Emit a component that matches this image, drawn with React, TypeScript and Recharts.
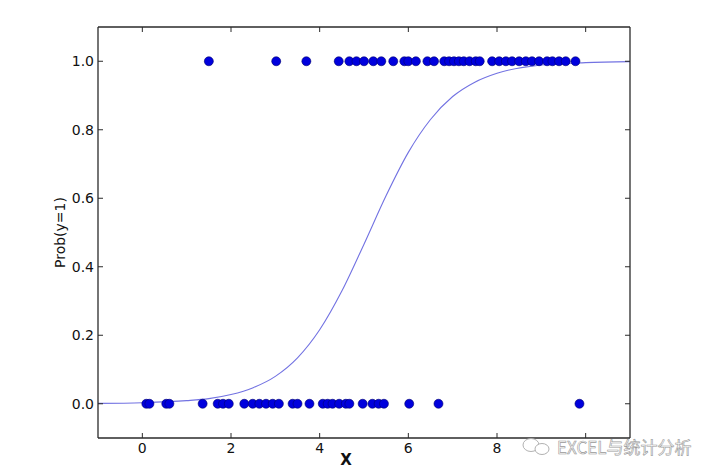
import React from "react";
import { ComposedChart, Scatter, Line, XAxis, YAxis, Label } from "recharts";

const onesX = [1.5, 3.02, 3.7, 4.43, 4.67, 4.83, 5.0, 5.21, 5.39, 5.66, 5.91, 6.0, 6.17, 6.43, 6.58, 6.81, 6.92, 7.03, 7.14, 7.25, 7.38, 7.52, 7.61, 7.89, 8.05, 8.2, 8.34, 8.5, 8.65, 8.79, 8.95, 9.13, 9.25, 9.4, 9.55, 9.77];
const zerosX = [0.09, 0.16, 0.54, 0.61, 1.36, 1.7, 1.82, 1.95, 2.3, 2.49, 2.64, 2.79, 2.94, 3.08, 3.39, 3.5, 3.77, 4.07, 4.18, 4.29, 4.44, 4.59, 4.67, 4.97, 5.19, 5.33, 5.45, 6.02, 6.68, 9.86];

// fitted curve
const curveX = [-1, 0, 1, 1.5, 2, 2.5, 3, 3.5, 4, 4.5, 5, 5.5, 6, 6.5, 7, 7.5, 8, 9, 10, 11];
const curveY = [0.001, 0.003, 0.009, 0.015, 0.027, 0.047, 0.08, 0.134, 0.216, 0.329, 0.466, 0.608, 0.734, 0.83, 0.897, 0.939, 0.965, 0.989, 0.996, 0.999];

const xTicks = [0, 2, 4, 6, 8, 10];
// the "10" label is hidden under the watermark in the source
const xTickLabels = ["0", "2", "4", "6", "8", ""];
const yTicks = [0, 0.2, 0.4, 0.6, 0.8, 1.0];

const points = [...onesX.map((x) => ({ x, y: 1 })), ...zerosX.map((x) => ({ x, y: 0 }))];
const curve = curveX.map((x, i) => ({ x, y: curveY[i] }));

const FONT = "'DejaVu Sans', sans-serif";
const FRAME = "#2a2a2a";

// axes are 1px thick boxes; the frame line sits on the plot edge
const BottomTick = ({ x, y, index }: any) => (
  <g>
    <line x1={x} x2={x} y1={y - 5} y2={y - 10} stroke={FRAME} />
    <text x={x} y={y} dy="0.71em" textAnchor="middle" fontSize={14} fontFamily={FONT} fill="#111">
      {xTickLabels[index]}
    </text>
  </g>
);

const LeftTick = ({ x, y, payload }: any) => (
  <g>
    <line x1={x + 4} x2={x + 9} y1={y} y2={y} stroke={FRAME} />
    <text x={x} y={y} dy="0.355em" textAnchor="end" fontSize={14} fontFamily={FONT} fill="#111">
      {Number(payload.value).toFixed(1)}
    </text>
  </g>
);

const TopTick = ({ x, y }: any) => <line x1={x} x2={x} y1={y} y2={y + 5} stroke={FRAME} />;
const RightTick = ({ x, y }: any) => <line x1={x} x2={x - 5} y1={y} y2={y} stroke={FRAME} />;

const Dot = ({ cx, cy }: any) => <circle cx={cx} cy={cy} r={4.5} fill="#0000dd" stroke="#00006e" strokeWidth={0.6} />;

export default function App() {
  return (
    <div style={{ position: "absolute", left: 0, top: 0, width: 714, height: 476, background: "#fff" }}>
      <ComposedChart width={714} height={476} margin={{ top: 26, right: 83, bottom: 37, left: 97 }}>
        <XAxis
          xAxisId="b"
          dataKey="x"
          type="number"
          domain={[-1, 11]}
          ticks={xTicks}
          interval={0}
          height={1}
          tickSize={0}
          tickMargin={5}
          tickLine={false}
          tick={<BottomTick />}
          axisLine={{ stroke: FRAME, strokeWidth: 1.3 }}
          allowDataOverflow
        >
          <Label
            content={({ viewBox }: any) => (
              <text
                x={viewBox.x + viewBox.width / 2 - 18}
                y={viewBox.y + 16}
                dy="0.71em"
                textAnchor="middle"
                fontSize={15}
                fontWeight="bold"
                fontFamily={FONT}
                fill="#111"
              >
                X
              </text>
            )}
          />
        </XAxis>
        <XAxis
          xAxisId="t"
          orientation="top"
          dataKey="x"
          type="number"
          domain={[-1, 11]}
          ticks={xTicks}
          interval={0}
          height={1}
          tickSize={0}
          tickMargin={0}
          tickLine={false}
          tick={<TopTick />}
          axisLine={{ stroke: FRAME, strokeWidth: 1.3 }}
          allowDataOverflow
        />
        <YAxis
          yAxisId="l"
          type="number"
          domain={[-0.1, 1.1]}
          ticks={yTicks}
          interval={0}
          width={1}
          tickSize={0}
          tickMargin={4}
          tickLine={false}
          tick={<LeftTick />}
          axisLine={{ stroke: FRAME, strokeWidth: 1.3 }}
          allowDataOverflow
        >
          <Label
            content={({ viewBox }: any) => {
              const cx = viewBox.x - 37;
              const cy = viewBox.y + viewBox.height / 2;
              return (
                <text
                  x={cx}
                  y={cy}
                  transform={`rotate(-90 ${cx} ${cy})`}
                  textAnchor="middle"
                  dy="0.355em"
                  fontSize={14}
                  fontFamily={FONT}
                  fill="#111"
                >
                  Prob(y=1)
                </text>
              );
            }}
          />
        </YAxis>
        <YAxis
          yAxisId="r"
          orientation="right"
          type="number"
          domain={[-0.1, 1.1]}
          ticks={yTicks}
          interval={0}
          width={1}
          tickSize={0}
          tickMargin={0}
          tickLine={false}
          tick={<RightTick />}
          axisLine={{ stroke: FRAME, strokeWidth: 1.3 }}
          allowDataOverflow
        />
        <Line
          xAxisId="b"
          yAxisId="l"
          data={curve}
          dataKey="y"
          type="monotone"
          stroke="#7272e2"
          strokeWidth={1.1}
          dot={false}
          activeDot={false}
          isAnimationActive={false}
        />
        <Scatter
          xAxisId="b"
          yAxisId="l"
          data={points}
          dataKey="y"
          shape={<Dot />}
          isAnimationActive={false}
        />
      </ComposedChart>
      <svg style={{ position: "absolute", left: 520, top: 436 }} width={36} height={22}>
        <ellipse cx={11} cy={9} rx={8} ry={6.5} fill="#fff" stroke="#a8a8a8" strokeWidth={0.9} />
        <ellipse cx={22} cy={13} rx={7} ry={5.5} fill="#fff" stroke="#a8a8a8" strokeWidth={0.9} />
      </svg>
      <div
        style={{
          position: "absolute",
          left: 557,
          top: 436,
          fontSize: 17,
          lineHeight: "21px",
          fontFamily: "'Noto Sans CJK SC', sans-serif",
          color: "#fff",
          WebkitTextStroke: "0.6px #999",
          whiteSpace: "nowrap",
        }}
      >
        EXCEL与统计分析
      </div>
    </div>
  );
}
